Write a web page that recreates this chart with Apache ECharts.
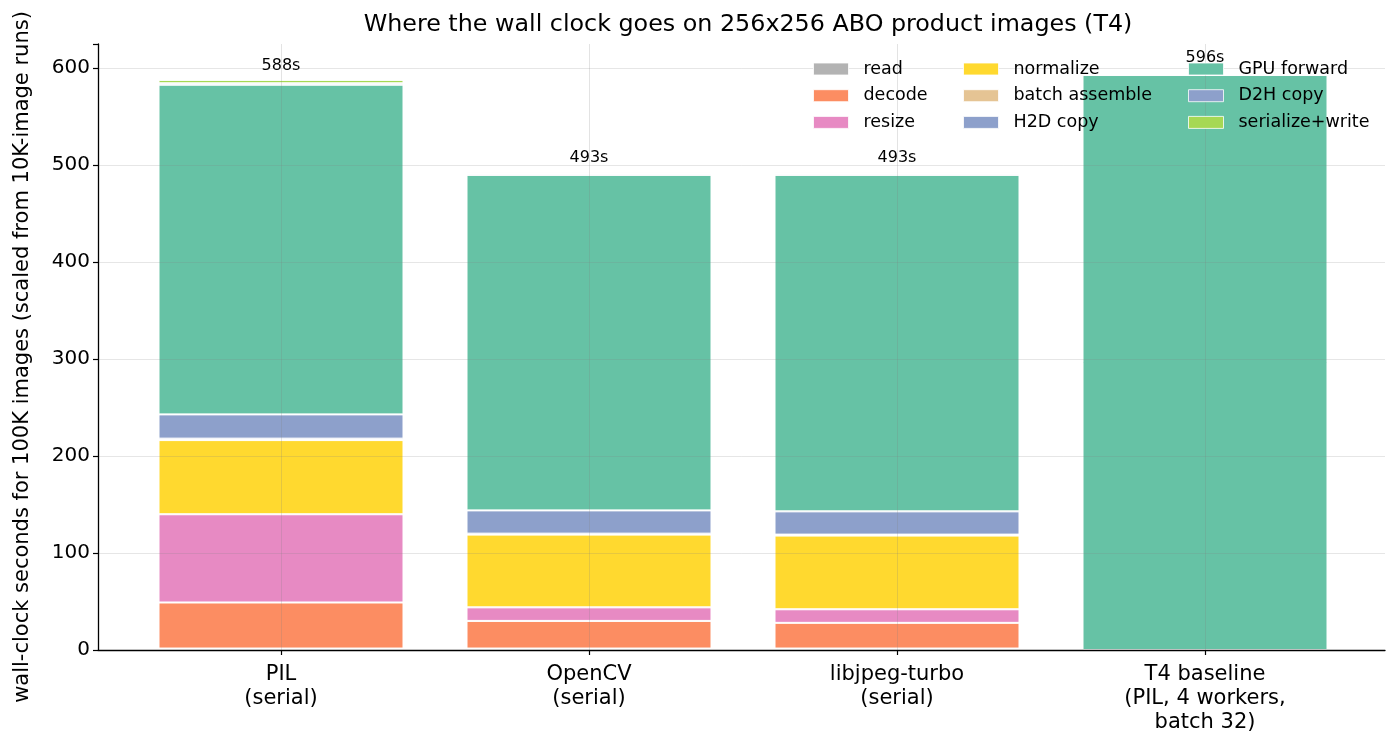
<!DOCTYPE html>
<html>
<head>
<meta charset="utf-8">
<script src="https://cdn.jsdelivr.net/npm/echarts@6/dist/echarts.min.js"></script>
<style>html,body{margin:0;padding:0;background:#fff}#c{width:1400px;height:751px}</style>
</head>
<body>
<div id="c"></div>
<script>
const categories = ['PIL\n(serial)', 'OpenCV\n(serial)', 'libjpeg-turbo\n(serial)', 'T4 baseline\n(PIL, 4 workers,\nbatch 32)'];
const readVals = [1.5, 1.5, 1.5, null];
const decodeVals = [47.5, 28.5, 26.5, null];
const resizeVals = [91, 14, 14, null];
const normalizeVals = [76.5, 75, 76, null];
const batchAssembleVals = [1.5, 1, 1, null];
const h2dVals = [25, 24, 24, null];
const gpuVals = [340, 346, 347, 593];
const d2hVals = [1.5, 1.5, 1.5, null];
const serializeVals = [3.5, 1.5, 1.5, null];
const totals = [588, 493, 493, 596];
const yTicks = [0, 100, 200, 300, 400, 500, 600];

const stages = [
  ['read', readVals, '#b3b3b3'],
  ['decode', decodeVals, '#fc8d62'],
  ['resize', resizeVals, '#e78ac3'],
  ['normalize', normalizeVals, '#ffd92f'],
  ['batch assemble', batchAssembleVals, '#e5c494'],
  ['H2D copy', h2dVals, '#8da0cb'],
  ['GPU forward', gpuVals, '#66c2a5'],
  ['D2H copy', d2hVals, '#8da0cb'],
  ['serialize+write', serializeVals, '#a6d854']
];

const FONT = 'DejaVu Sans';
const chart = echarts.init(document.getElementById('c'));

const series = stages.map(([name, vals, color]) => ({
  name, type: 'bar', stack: 'total', xAxisIndex: 1, yAxisIndex: 1,
  data: vals, barWidth: 245, barGap: '-100%',
  itemStyle: { color, borderColor: '#ffffff', borderWidth: 1 },
  emphasis: { disabled: true }
}));
series.push({
  name: 'totals', type: 'bar', xAxisIndex: 1, yAxisIndex: 1,
  data: totals, barWidth: 245, barGap: '-100%', z: 1,
  itemStyle: { color: 'rgba(0,0,0,0)' },
  label: { show: true, position: 'top', distance: 6, formatter: '{c}s', fontFamily: FONT, fontSize: 16, color: '#000' },
  emphasis: { disabled: true }
});

const legendBase = {
  orient: 'vertical', top: 60, itemWidth: 35, itemHeight: 12, itemGap: 8.7,
  icon: 'rect', selectedMode: false,
  itemStyle: { borderColor: 'rgba(255,255,255,0.8)', borderWidth: 1 },
  textStyle: { fontFamily: FONT, fontSize: 17.5, color: '#000', lineHeight: 17.5, padding: [0, 0, 0, 10] },
  padding: 0
};

chart.setOption({
  animation: false,
  title: {
    text: 'Where the wall clock goes on 256x256 ABO product images (T4)',
    left: 743, top: 8, textAlign: 'center',
    textStyle: { fontFamily: FONT, fontSize: 23.8, fontWeight: 'normal', color: '#000' }
  },
  legend: [
    Object.assign({}, legendBase, { left: 813, data: ['read', 'decode', 'resize'] }),
    Object.assign({}, legendBase, { left: 963, data: ['normalize', 'batch assemble', 'H2D copy'] }),
    Object.assign({}, legendBase, { left: 1188, data: ['GPU forward', 'D2H copy', 'serialize+write'] })
  ],
  grid: [
    { left: 98, right: 15, top: 44, bottom: 101, containLabel: false, outerBoundsMode: 'none' },
    { left: 127, right: 41, top: 44, bottom: 101, containLabel: false, outerBoundsMode: 'none' }
  ],
  xAxis: [
    { type: 'category', gridIndex: 0, data: [''], z: 3,
      axisLine: { show: true, lineStyle: { color: '#000', width: 1.3 } },
      axisTick: { show: false }, axisLabel: { show: false }, splitLine: { show: false } },
    { type: 'category', gridIndex: 1, data: categories, z: 3,
      axisLine: { show: false },
      axisTick: { show: true, alignWithLabel: true, length: 5, lineStyle: { color: '#000', width: 1.2 } },
      axisLabel: { fontFamily: FONT, fontSize: 21, color: '#000', lineHeight: 24, margin: 13 },
      splitLine: { show: true, alignWithLabel: true, lineStyle: { color: 'rgba(128,128,128,0.22)', width: 1 } } }
  ],
  yAxis: [
    { type: 'value', gridIndex: 0, min: 0, max: 625, interval: 100, z: 3,
      name: 'wall-clock seconds for 100K images (scaled from 10K-image runs)',
      nameLocation: 'middle', nameGap: 65, nameRotate: 90,
      nameTextStyle: { fontFamily: FONT, fontSize: 21, color: '#000', padding: [0, 20, 0, 0] },
      axisLine: { show: true, lineStyle: { color: '#000', width: 1.3 } },
      axisTick: { show: true, length: 5, lineStyle: { color: '#000', width: 1.2 } },
      axisLabel: { fontFamily: FONT, fontSize: 20, color: '#000', margin: 8,
        formatter: v => yTicks.includes(v) ? String(v) : '' },
      splitLine: { show: true, showMaxLine: false, lineStyle: { color: 'rgba(128,128,128,0.2)', width: 1 } } },
    { type: 'value', gridIndex: 1, min: 0, max: 625, interval: 100, show: false,
      splitLine: { show: false } }
  ],
  series
});
</script>
</body>
</html>
